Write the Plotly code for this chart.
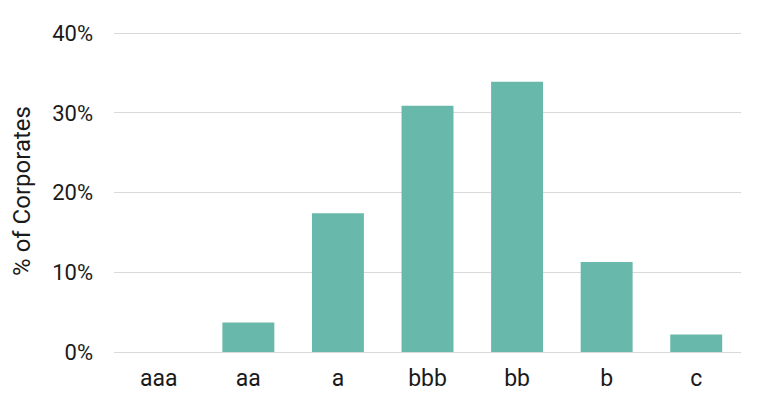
import plotly.graph_objects as go

categories = ["aaa", "aa", "a", "bbb", "bb", "b", "c"]
values = [0.0, 3.7, 17.4, 30.9, 33.9, 11.3, 2.2]
y_ticks = [0, 10, 20, 30, 40]
y_tick_labels = ["0%", "10%", "20%", "30%", "40%"]

fig = go.Figure(go.Bar(x=categories, y=values, marker_color="#68b9ab", marker_line_width=0))

fig.update_layout(
    width=768, height=414,
    margin=dict(l=106, r=35, t=22, b=70),
    paper_bgcolor="white", plot_bgcolor="white",
    bargap=0.42,
    font=dict(family="Roboto", size=21, color="#1a1a1a"),
    showlegend=False,
)
fig.update_xaxes(showgrid=False, showline=False, ticks="", ticklabelstandoff=10,
                 tickfont=dict(size=23))
fig.update_yaxes(range=[0, 40.4], tickvals=y_ticks, ticktext=y_tick_labels,
                 showgrid=True, gridcolor="#d9d9d9", gridwidth=1,
                 zeroline=True, zerolinecolor="#d9d9d9", zerolinewidth=1,
                 ticklabelstandoff=20, tickfont=dict(size=22),
                 title=dict(text="% of Corporates", standoff=16, font=dict(size=24)))

fig.write_html("out.html")
